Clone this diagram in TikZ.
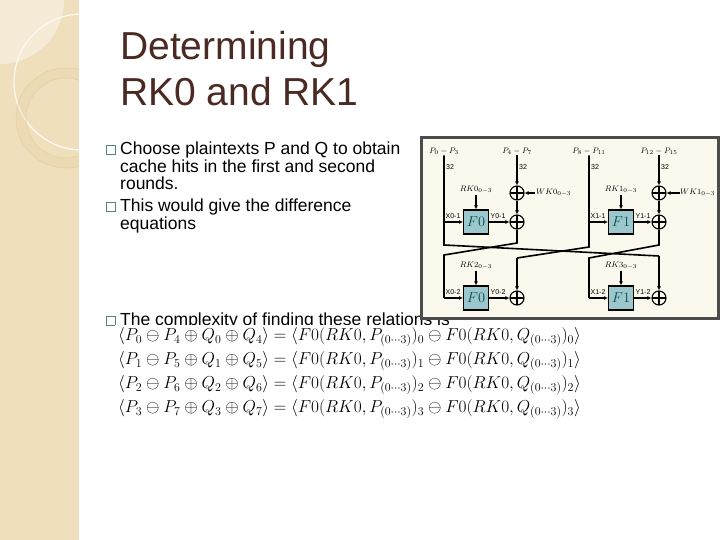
\documentclass[tikz,border=0pt]{standalone}
\usepackage{fontspec}
\setmainfont{Liberation Sans}
\usepackage{amsmath}
\usetikzlibrary{arrows.meta}
\definecolor{strip}{HTML}{EFDFBC}
\definecolor{titlec}{HTML}{4A2A22}
\definecolor{fbox}{HTML}{9CC7CC}
\definecolor{cream}{HTML}{FBF8EE}
\tikzset{
 btext/.style={anchor=north west,inner sep=0,font=\fontsize{17.5}{17.5}\selectfont,align=left},
 bul/.style={draw=gray!70!teal,line width=0.5pt,minimum size=9pt,inner sep=0},
 fb/.style={draw=black,line width=1.2pt,fill=fbox,minimum width=24pt,minimum height=24pt,font=\Large\color{teal!60!black}},
 xo/.style={circle,draw=black,line width=1.1pt,minimum size=14pt,inner sep=0,path picture={\draw[line width=1.1pt] (path picture bounding box.north)--(path picture bounding box.south) (path picture bounding box.west)--(path picture bounding box.east);}},
 ln/.style={line width=1.6pt},
 ar/.style={line width=1.6pt,-{Latex[length=4pt,width=4pt]}},
 sm/.style={font=\fontsize{7}{7}\selectfont,inner sep=1pt},
 lab/.style={font=\footnotesize,inner sep=1pt},
 eq/.style={anchor=west,inner sep=0,font=\fontsize{17.3}{18}\selectfont}
}
\begin{document}
\begin{tikzpicture}[x=1pt,y=-1pt]
\useasboundingbox (0,0) rectangle (720,540);
\fill[white] (0,0) rectangle (720,540);
% strip
\fill[strip] (0,0) rectangle (79,540);
\begin{scope}
\clip (0,0) rectangle (79,540);
\fill[white,opacity=0.4] (0,0) circle (64);
\draw[white!80!strip,line width=1.3pt] (82,82) circle (68);
\fill[strip!80!brown,opacity=0.25,even odd rule] (66,118) circle (50) (66,118) circle (40);
\draw[strip!80!brown,line width=0.5pt] (66,118) circle (50);
\draw[strip!80!brown,line width=0.5pt] (66,118) circle (40);
\end{scope}
% title
\node[anchor=west,inner sep=0,text=titlec,font=\fontsize{39}{46}\selectfont,align=left] (title) at (120,69) {Determining\\RK0 and RK1};
% bullets
\node[bul] (b1) at (111,150) {};
\node[btext] (t1) at (120,142) {Choose plaintexts P and Q to obtain\\cache hits in the first and second\\rounds.};
\node[bul] (b2) at (111,207) {};
\node[btext] (t2) at (120,199) {This would give the difference\\equations};
\node[bul] (b3) at (111,321) {};
\node[btext] (t3) at (120,313) {The complexity of finding these relations is};
% equation overlay
\fill[white] (115,325) rectangle (600,422);
\node[eq] (e1) at (118,337) {$\langle P_0 \ominus P_4 \oplus Q_0 \oplus Q_4\rangle = \langle F0(RK0,P_{(0\cdots3)})_0 \ominus F0(RK0,Q_{(0\cdots3)})_0\rangle$};
\node[eq] (e2) at (118,361) {$\langle P_1 \ominus P_5 \oplus Q_1 \oplus Q_5\rangle = \langle F0(RK0,P_{(0\cdots3)})_1 \ominus F0(RK0,Q_{(0\cdots3)})_1\rangle$};
\node[eq] (e3) at (118,385) {$\langle P_2 \ominus P_6 \oplus Q_2 \oplus Q_6\rangle = \langle F0(RK0,P_{(0\cdots3)})_2 \ominus F0(RK0,Q_{(0\cdots3)})_2\rangle$};
\node[eq] (e4) at (118,409) {$\langle P_3 \ominus P_7 \oplus Q_3 \oplus Q_7\rangle = \langle F0(RK0,P_{(0\cdots3)})_3 \ominus F0(RK0,Q_{(0\cdots3)})_3\rangle$};
% figure
\draw[draw=black!70,line width=3pt,fill=cream] (421,138) rectangle (718,318);
\node[lab] (p1) at (444,151) {$P_0-P_3$};
\node[lab] (p2) at (517,151) {$P_4-P_7$};
\node[lab] (p3) at (589,151) {$P_8-P_{11}$};
\node[lab] (p4) at (659,151) {$P_{12}-P_{15}$};
\node[sm] at (450,167) {32};
\node[sm] at (523,167) {32};
\node[sm] at (595,167) {32};
\node[sm] at (665,167) {32};
\node[fb] (f0a) at (476,222) {$F0$};
\node[fb] (f1a) at (621,222) {$F1$};
\node[fb] (f0b) at (476,298) {$F0$};
\node[fb] (f1b) at (621,298) {$F1$};
\node[xo] (xa) at (517,193) {};
\node[xo] (xb) at (517,222) {};
\node[xo] (xc) at (659,193) {};
\node[xo] (xd) at (659,222) {};
\node[xo] (xe) at (517,298) {};
\node[xo] (xf) at (659,298) {};
\node[lab] (rk0) at (476,190) {$RK0_{0-3}$};
\node[lab] (rk1) at (621,190) {$RK1_{0-3}$};
\node[lab] (rk2) at (476,266) {$RK2_{0-3}$};
\node[lab] (rk3) at (621,266) {$RK3_{0-3}$};
\node[lab,anchor=west] (wk0) at (535,193) {$WK0_{0-3}$};
\node[lab,anchor=west,inner sep=0] (wk1) at (680,193) {$WK1_{0-3}$};
\draw[ar] (rk0) -- (f0a);
\draw[ar] (rk1) -- (f1a);
\draw[ar] (rk2) -- (f0b);
\draw[ar] (rk3) -- (f1b);
\draw[ar] (wk0) -- (xa);
\draw[ar] (wk1) -- (xc);
\draw[ar] (p2) -- (xa);
\draw[ar] (p4) -- (xc);
\draw[ar] (xa) -- (xb);
\draw[ar] (xc) -- (xd);
\draw[ar] (f0a) -- (xb);
\draw[ar] (f1a) -- (xd);
\draw[ar] (f0b) -- (xe);
\draw[ar] (f1b) -- (xf);
\draw[ln] (p1) -- (444,245) -- (659,256);
\draw[ar] (659,256) -- (xf);
\draw[ar] (444,222) -- (f0a);
\draw[ln] (p3) -- (589,247) -- (517,258);
\draw[ar] (517,258) -- (xe);
\draw[ar] (589,222) -- (f1a);
\draw[ln] (xb) -- (517,243) -- (444,255) -- (444,298);
\draw[ar] (444,298) -- (f0b);
\draw[ln] (xd) -- (659,245) -- (589,258) -- (589,298);
\draw[ar] (589,298) -- (f1b);
\node[sm] at (453,216) {X0-1};
\node[sm] at (498,216) {Y0-1};
\node[sm] at (598,216) {X1-1};
\node[sm] at (643,216) {Y1-1};
\node[sm] at (453,292) {X0-2};
\node[sm] at (498,292) {Y0-2};
\node[sm] at (598,292) {X1-2};
\node[sm] at (643,292) {Y1-2};
\end{tikzpicture}
\end{document}
